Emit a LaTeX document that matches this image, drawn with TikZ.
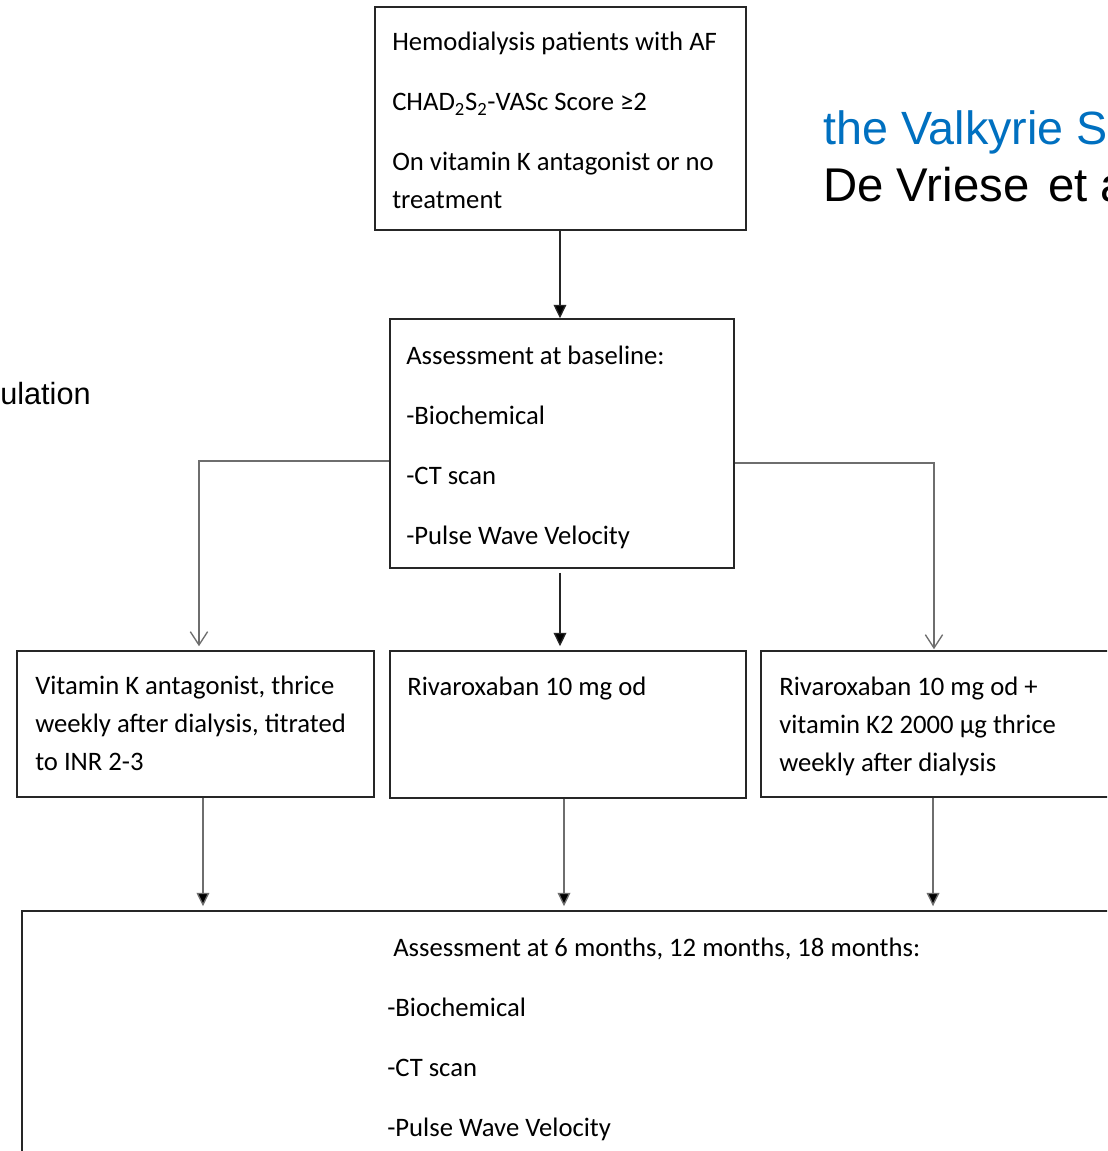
\documentclass[tikz,border=0pt]{standalone}
\usepackage{fontspec}
\setmainfont{Carlito}
\newfontfamily\arialf{Liberation Sans}
\usetikzlibrary{arrows.meta,calc}
\definecolor{titleblue}{RGB}{0,112,192}
\definecolor{conngray}{RGB}{110,110,110}
\tikzset{
  box/.style={draw=black!85, line width=1.2pt, inner sep=0pt, fill=none},
  txt/.style={anchor=base west, align=left, inner sep=0pt, font=\fontsize{20}{28.5}\selectfont},
  fillarrow/.style={draw=conngray, line width=1pt, -{Triangle[length=10pt,width=9.5pt,fill=black]}, shorten >=3pt},
  openarrow/.style={draw=conngray, line width=1pt, -{Straight Barb[length=10pt,width=13pt,line width=1pt]}},
}
\begin{document}
\begin{tikzpicture}[x=0.75pt,y=-0.75pt]
\useasboundingbox (0,0) rectangle (1107,1151);
\clip (0,0) rectangle (1107,1151);
\fill[white] (0,0) rectangle (1107,1151);

% boxes
\node[box, minimum width=278.25pt, minimum height=167.25pt] (b1) at (560.5,118.5) {};
\node[box, minimum width=258pt, minimum height=186.75pt] (b2) at (562,443.5) {};
\node[box, minimum width=267.75pt, minimum height=109.5pt] (b3) at (195.5,724) {};
\node[box, minimum width=267pt, minimum height=110.25pt] (b4) at (568,724.5) {};
\node[box, minimum width=269.25pt, minimum height=109.5pt] (b5) at (940.5,724) {};
\node[box, minimum width=831pt, minimum height=194.25pt] (b6) at (576,1040.5) {};

% texts (anchored at the baseline of their last line)
\node[txt] (t1) at (392,209) {Hemodialysis patients with AF\\[16.5pt]CHAD\textsubscript{2}S\textsubscript{2}-VASc Score ≥2\\[16.5pt]On vitamin K antagonist or no\\treatment};
\node[txt] (t2) at (406,544) {Assessment at baseline:\\[16.5pt]-Biochemical\\[16.5pt]-CT scan\\[16.5pt]-Pulse Wave Velocity};
\node[txt] (t3) at (35,770) {Vitamin K antagonist, thrice\\weekly after dialysis, titrated\\to INR 2-3};
\node[txt] (t4) at (407,695) {Rivaroxaban 10 mg od};
\node[txt] (t5) at (779,771) {Rivaroxaban 10 mg od +\\vitamin K2 2000 µg thrice\\weekly after dialysis};
\node[txt] (t6) at (387,1136) {\hspace*{4.5pt}Assessment at 6 months, 12 months, 18 months:\\[16.5pt]-Biochemical\\[16.5pt]-CT scan\\[16.5pt]-Pulse Wave Velocity};

% title texts
\node[anchor=base west, inner sep=0pt, font=\arialf\fontsize{35}{40}\selectfont, text=titleblue] (ti1) at (823,145) {the Valkyrie S};
\node[anchor=base west, inner sep=0pt, font=\arialf\fontsize{35.5}{40}\selectfont] (ti2) at (823,202) {De Vriese\hspace{0.12em} et a};
\node[anchor=base west, inner sep=0pt, font=\arialf\fontsize{23}{26}\selectfont] (ti3) at (0,404) {ulation};

% connectors
\draw[fillarrow, draw=black!85, shorten >=0pt] ([xshift=-0.4pt]b1.south) -- ([xshift=-0.4pt]b1.south |- b2.north);
\draw[fillarrow, draw=black!85] ([xshift=-1.5pt,yshift=-3pt]b2.south) -- ([xshift=-1.5pt]b2.south |- b4.north);
\draw[openarrow] ([yshift=-13pt]b2.west) -| ([xshift=2.6pt,yshift=3pt]b3.north);
\draw[openarrow] ([yshift=-14.6pt]b2.east) -| ([xshift=-4.9pt,yshift=0.75pt]b5.north);
\draw[fillarrow] ([xshift=5.6pt]b3.south) -- ([xshift=5.6pt]b3.south |- b6.north);
\draw[fillarrow] ([xshift=-3pt]b4.south) -- ([xshift=-3pt]b4.south |- b6.north);
\draw[fillarrow] ([xshift=-5.6pt]b5.south) -- ([xshift=-5.6pt]b5.south |- b6.north);
\end{tikzpicture}
\end{document}
